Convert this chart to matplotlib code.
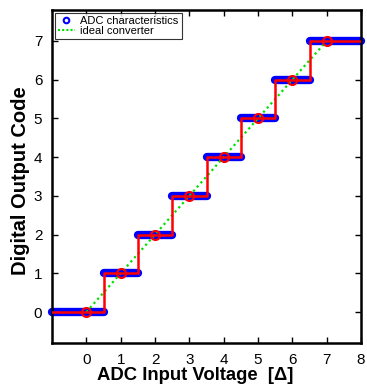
import matplotlib
matplotlib.use("Agg")
import matplotlib.pyplot as plt
from matplotlib.lines import Line2D
import numpy as np

plt.rcParams['font.family'] = ['Liberation Sans', 'DejaVu Sans']

# Data
codes = [0, 1, 2, 3, 4, 5, 6, 7]
level_start = [-1.0, 0.5, 1.5, 2.5, 3.5, 4.5, 5.5, 6.5]
level_end = [0.5, 1.5, 2.5, 3.5, 4.5, 5.5, 6.5, 8.0]
ideal_x = [0, 7]
ideal_y = [0, 7]
xticks = [0, 1, 2, 3, 4, 5, 6, 7, 8]
yticks = [0, 1, 2, 3, 4, 5, 6, 7]

fig = plt.figure(figsize=(3.67, 3.87), dpi=100)
ax = fig.add_axes([52/367, 1-343/387, (361-52)/367, (343-10)/387])

# blue thick levels
for c, s, e in zip(codes, level_start, level_end):
    ax.plot([s, e], [c, c], color='#0000ff', lw=6, solid_capstyle='round',
            zorder=2, clip_on=False)

# ideal converter
ax.plot(ideal_x, ideal_y, color='#00e000', ls=(0, (1, 1.5)), lw=1.6, zorder=3)

# red step line
sx = []
sy = []
for c, s, e in zip(codes, level_start, level_end):
    sx += [s, e]
    sy += [c, c]
ax.plot(sx, sy, color='#ff0000', lw=1.8, zorder=4)
ax.plot(codes, codes, 'o', mfc='none', mec='#ff0000', mew=1.5, ms=6.5, zorder=5)

ax.set_xlim(-1, 8)
ax.set_ylim(-0.8, 7.8)
ax.set_xticks(xticks)
ax.set_yticks(yticks)
ax.tick_params(direction='in', top=True, right=True, length=4, width=1, labelsize=11)
ax.tick_params(axis='x', pad=7)
ax.tick_params(axis='y', pad=7)
for sp in ax.spines.values():
    sp.set_linewidth(1.8)

ax.set_xlabel('ADC Input Voltage  [Δ]', fontsize=13.3, fontweight='bold')
ax.set_ylabel('Digital Output Code', fontsize=14.5, fontweight='bold')
ax.xaxis.set_label_coords(0.464, -0.072, transform=ax.transAxes)
ax.xaxis.label.set_va('top')
ax.yaxis.set_label_coords(-0.07, 0.487, transform=ax.transAxes)
ax.yaxis.label.set_va('bottom')

handles = [Line2D([], [], ls='none', marker='o', mfc='none', mec='#0000ff', mew=1.5, ms=4),
           Line2D([], [], color='#00e000', ls=(0, (1, 1)), lw=1.5)]
leg = ax.legend(handles, ['ADC characteristics', 'ideal converter'], loc='upper left',
                fontsize=8, frameon=True, fancybox=False, borderpad=0.3, handlelength=1.5,
                labelspacing=0.0, handletextpad=0.5, borderaxespad=0.25)
leg.get_frame().set_edgecolor('black')
leg.get_frame().set_linewidth(0.8)

fig.savefig('out.png', dpi=100)
